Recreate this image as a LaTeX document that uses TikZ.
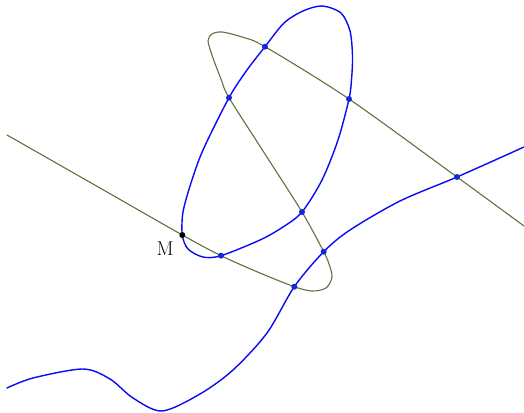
\documentclass[tikz,border=0pt]{standalone}
\usepackage{tikz}
\usetikzlibrary{calc}
\definecolor{curveblue}{HTML}{0A0AF5}
\definecolor{curveolive}{HTML}{63703F}
\definecolor{dotblue}{HTML}{1428D8}

\begin{document}
\begin{tikzpicture}[
  x=1pt, y=-1pt,
  line cap=round, line join=round,
  bluecurve/.style = {draw=curveblue, line width=1.4pt},
  olivecurve/.style = {draw=curveolive, line width=1.1pt},
  ipt/.style = {circle, fill=dotblue, inner sep=0pt, minimum size=6pt},
  mpt/.style = {circle, fill=black, inner sep=0pt, minimum size=6pt},
  lbl/.style = {font=\fontsize{20}{20}\selectfont, inner sep=0pt}
]
\useasboundingbox (0,0) rectangle (524,412);

% intersection points
\coordinate (M)  at (182.3,235);
\coordinate (p1) at (229,97.7);
\coordinate (p2) at (265,46.7);
\coordinate (p3) at (349,99);
\coordinate (p4) at (302,212);
\coordinate (p5) at (221,255.7);
\coordinate (q1) at (294.3,286.7);
\coordinate (q2) at (323.7,251.7);
\coordinate (q3) at (457,177);

% ellipse
\draw[bluecurve] plot[smooth cycle] coordinates {
  (322,6) (341,13) (350,31) (352.5,56) (351.5,80) (p3) (338,140)
  (322,180) (p4) (283,227) (260,240) (p5) (203,257) (188,249) (M)
  (183,212) (191,183) (203,150) (p1) (247,70) (p2) (284,23) (303,11)};

% wavy curve
\draw[bluecurve] plot[smooth] coordinates {
  (7,388) (33,378) (83,369) (110,379) (133,398) (162,411) (200,394)
  (233,370) (267,333) (q1) (q2) (350,230) (400,201) (q3) (524,147)};

% loop curve
\draw[olivecurve] plot[smooth] coordinates {
  (7,135) (100,188) (M) (p5) (260,273) (q1) (312,291) (326,288)
  (332,277) (329,264) (q2) (p4) (265.6,155) (p1) (221,79) (213,58)
  (208,41) (212,34) (222,32) (242,37) (p2) (p3) (q3) (524,226)};

\foreach \p in {p1,p2,p3,p4,p5,q1,q2,q3}
  \node[ipt] (d\p) at (\p) {};
\node[mpt] (dM) at (M) {};
\node[lbl] (labM) at (165,249) {M};

\end{tikzpicture}
\end{document}
